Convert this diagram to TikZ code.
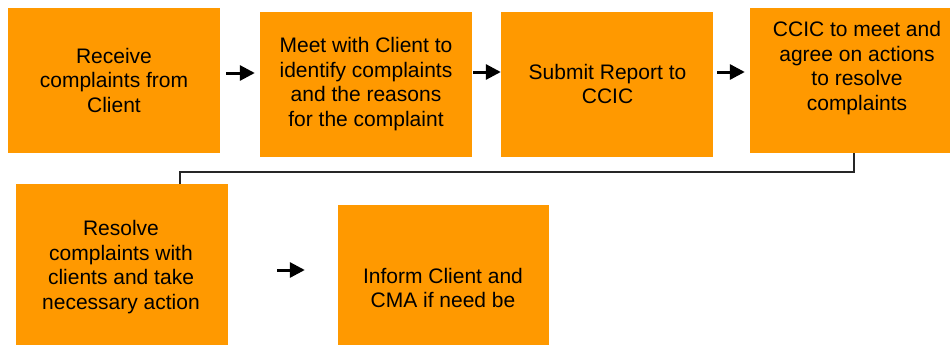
\documentclass[tikz,border=0pt]{standalone}
\usepackage{fontspec}
\setmainfont{Liberation Sans}
\usetikzlibrary{arrows.meta}
\definecolor{steporange}{RGB}{255,153,0}
\begin{document}
\begin{tikzpicture}[x=1pt,y=-1pt,
  box/.style={fill=steporange, draw=none, inner sep=0pt},
  txt/.style={align=center, font=\fontsize{21}{24.5}\selectfont, text=black, inner sep=0pt},
  arr/.style={line width=3pt, -{Triangle[length=15pt,width=15pt]}},
  conn/.style={line width=2pt, draw=black!85}]
\useasboundingbox (0,0) rectangle (952,345);

% process boxes
\node[box, minimum width=212pt, minimum height=145pt] (b1) at (114,80.5) {};
\node[box, minimum width=212pt, minimum height=145pt] (b2) at (366,84.5) {};
\node[box, minimum width=212pt, minimum height=145pt] (b3) at (607,84.5) {};
\node[box, minimum width=200pt, minimum height=145pt] (b4) at (850,80.5) {};
\node[box, minimum width=212pt, minimum height=161pt] (b5) at (122,264.5) {};
\node[box, minimum width=211pt, minimum height=140pt] (b6) at (443.5,275) {};

% box texts
\node[txt] (t1) at (114,80) {Receive\\complaints from\\Client};
\node[txt] (t2) at (366,84) {Meet with Client to\\identify complaints\\and the reasons\\for the complaint};
\node[txt] (t3) at (607.5,84) {Submit Report to\\CCIC};
\node[txt] (t4) at (857,68) {CCIC to meet and\\agree on actions\\to resolve\\complaints};
\node[txt] (t5) at (121,267) {Resolve\\complaints with\\clients and take\\necessary action};
\node[txt] (t6) at (443,288) {Inform Client and\\CMA if need be};

% arrows between steps
\draw[arr, shorten <=6pt, shorten >=5pt] ([yshift=7.5pt]b1.east) -- ([yshift=7.5pt]b1.east -| b2.west);
\draw[arr, shorten <=1pt] ([yshift=12.5pt]b2.east) -- ([yshift=12.5pt]b2.east -| b3.west);
\draw[arr, shorten <=4pt, shorten >=5pt] ([yshift=12.5pt]b3.east) -- ([yshift=12.5pt]b3.east -| b4.west);
\draw[arr, shorten <=49pt, shorten >=33pt] ([yshift=-5.5pt]b5.east) -- ([yshift=-5.5pt]b5.east -| b6.west);

% elbow from the fourth step down to the fifth
\draw[conn] ([xshift=4pt]b4.south) -- ++(0pt,-19pt) -| ([xshift=58pt]b5.north);
\end{tikzpicture}
\end{document}
